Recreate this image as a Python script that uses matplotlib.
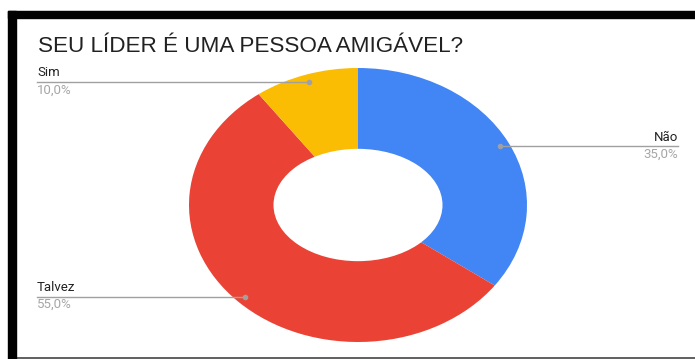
import numpy as np
import matplotlib.pyplot as plt
from matplotlib.patches import Rectangle, Ellipse
from matplotlib.lines import Line2D

title = 'SEU LÍDER É UMA PESSOA AMIGÁVEL?'
caption = 'Figura 11 – Questão: Seu líder é uma pessoa amigável, na sua opinião?'
labels = ['Não', 'Talvez', 'Sim']
values = [35.0, 55.0, 10.0]
colors = ['#4285F4', '#EA4335', '#FBBC04']
# which side each callout goes to
sides = ['right', 'left', 'left']

W, H = 695, 359


def fx(px):
    return px / W


def fy(py):
    return 1 - py / H


fig = plt.figure(figsize=(W / 100, H / 100), dpi=100)
fig.patch.set_facecolor('white')

# caption of the page, mostly above the top edge
fig.text(fx(40), fy(-3.5), caption, fontsize=14, family='Liberation Serif',
         va='baseline', ha='left', color='black')

# frame
fig.lines.append(Line2D([fx(8), 1], [fy(10.5), fy(10.5)], transform=fig.transFigure,
                        color='#9a9a9a', lw=0.8, zorder=5))
fig.patches.append(Rectangle((fx(8), fy(18)), 1 - fx(8), fy(11) - fy(18),
                             transform=fig.transFigure, color='black', zorder=5))
fig.patches.append(Rectangle((fx(8), 0), fx(16) - fx(8), fy(11),
                             transform=fig.transFigure, color='black', zorder=5))
fig.lines.append(Line2D([fx(16), 1], [fy(357.5), fy(357.5)], transform=fig.transFigure,
                        color='#444444', lw=1.2, zorder=5))

fig.text(fx(38), fy(47), title, fontsize=16.2, family='Liberation Sans',
         va='center', ha='left', color='#212121')

ax = fig.add_axes([fx(189), fy(342), fx(527) - fx(189), fy(68) - fy(342)])
ax.pie(values, colors=colors, startangle=90, counterclock=False, radius=1,
       wedgeprops=dict(edgecolor='none'))
# donut hole
ax.add_patch(Ellipse((0, 0), 1.0, 0.82, facecolor='white', edgecolor='none', zorder=3))
ax.set_aspect('auto')
ax.set_xlim(-1, 1)
ax.set_ylim(-1, 1)

to_fig = ax.transData + fig.transFigure.inverted()
total = sum(values)
start = 0.0
for lab, v, side in zip(labels, values, sides):
    mid = start + v / 2
    start += v
    ang = np.deg2rad(90 - mid / total * 360)
    px, py = to_fig.transform((0.945 * np.cos(ang), 0.945 * np.sin(ang)))
    xend = fx(678) if side == 'right' else fx(37)
    fig.lines.append(Line2D([px, xend], [py, py], transform=fig.transFigure,
                            color='#a0a0a0', lw=1.0))
    fig.lines.append(Line2D([px], [py], transform=fig.transFigure, marker='o',
                            ms=3, color='#a0a0a0', lw=0))
    ha = 'right' if side == 'right' else 'left'
    fig.text(xend, py + 2.5 / H, lab, fontsize=9.5, family='Roboto', ha=ha,
             va='bottom', color='#222222')
    fig.text(xend, py - 1.5 / H, f'{v:.1f}%'.replace('.', ','), fontsize=9.5,
             family='Roboto', ha=ha, va='top', color='#a6a6a6')

fig.savefig('out.png', dpi=100)
